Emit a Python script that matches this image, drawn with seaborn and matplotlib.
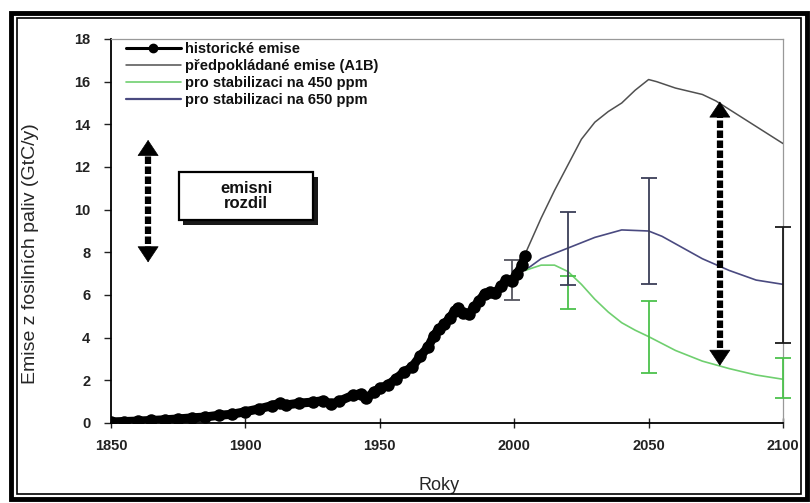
import numpy as np
import pandas as pd
import matplotlib
matplotlib.use("Agg")
import matplotlib.pyplot as plt
import matplotlib.patheffects as pe
from matplotlib.lines import Line2D
from matplotlib.patches import Rectangle
import seaborn as sns

# ---------------- data ----------------
hist_years = [1850, 1855, 1860, 1865, 1870, 1875, 1880, 1885, 1890, 1895, 1900, 1905,
              1910, 1913, 1915, 1920, 1925, 1929, 1932, 1935, 1940, 1943, 1945, 1948,
              1950, 1953, 1956, 1959, 1962, 1965, 1968, 1970, 1972, 1974, 1976, 1978,
              1979, 1981, 1983, 1985, 1987, 1989, 1991, 1993, 1995, 1997, 1999, 2001,
              2003, 2004]
hist_values = [0.05, 0.07, 0.09, 0.12, 0.15, 0.19, 0.24, 0.28, 0.36, 0.41, 0.53, 0.66,
               0.82, 0.94, 0.84, 0.93, 0.98, 1.05, 0.88, 1.03, 1.30, 1.38, 1.16, 1.47,
               1.63, 1.78, 2.07, 2.39, 2.62, 3.13, 3.56, 4.07, 4.42, 4.62, 4.93, 5.27,
               5.38, 5.15, 5.09, 5.43, 5.73, 6.07, 6.14, 6.10, 6.40, 6.70, 6.67, 6.99,
               7.40, 7.85]

a1b_years = [2004, 2010, 2015, 2020, 2025, 2030, 2035, 2040, 2045, 2050, 2053, 2060,
             2070, 2075, 2080, 2090, 2100]
a1b_values = [7.9, 9.6, 10.9, 12.1, 13.3, 14.1, 14.6, 15.0, 15.6, 16.1, 16.0, 15.7,
              15.4, 15.1, 14.7, 13.9, 13.1]

s650_years = [2004, 2010, 2020, 2030, 2040, 2050, 2055, 2060, 2070, 2080, 2090, 2100]
s650_values = [7.15, 7.7, 8.2, 8.7, 9.05, 9.0, 8.75, 8.4, 7.7, 7.15, 6.7, 6.5]

s450_years = [2004, 2010, 2015, 2020, 2025, 2030, 2035, 2040, 2045, 2050, 2060, 2070,
              2080, 2090, 2100]
s450_values = [7.15, 7.4, 7.4, 7.1, 6.5, 5.8, 5.2, 4.7, 4.35, 4.05, 3.4, 2.9, 2.55,
               2.25, 2.05]

# uncertainty ranges (year, low, high)
err_hist_years = [1999]
err_hist_low = [5.77]
err_hist_high = [7.64]

err650_years = [2020, 2050]
err650_low = [6.47, 6.5]
err650_high = [9.9, 11.5]

err450_years = [2020, 2050, 2100]
err450_low = [5.33, 2.35, 1.15]
err450_high = [6.9, 5.7, 3.05]

errA_years = [2100]
errA_low = [3.75]
errA_high = [9.2]

legend_labels = ["historické emise", "předpokládané emise (A1B)",
                 "pro stabilizaci na 450 ppm", "pro stabilizaci na 650 ppm"]
gap_label = "emisni\nrozdil"
x_ticks = [1850, 1900, 1950, 2000, 2050, 2100]
y_ticks = [0, 2, 4, 6, 8, 10, 12, 14, 16, 18]

# ---------------- style ----------------
sns.set_theme(style="white")
plt.rcParams["font.family"] = ["Liberation Sans", "DejaVu Sans"]

col_hist = "#000000"
col_a1b = "#505050"
col_450 = "#6fcf6f"
col_650 = "#4a4a80"
col_err650 = "#3c3f58"
col_err450 = "#4cc24c"

fig = plt.figure(figsize=(8.10, 5.03), dpi=100)
ax = fig.add_axes([111 / 810, 80 / 503, 672 / 810, 384 / 503])

df_hist = pd.DataFrame({"year": hist_years, "val": hist_values})
df_a1b = pd.DataFrame({"year": a1b_years, "val": a1b_values})
df_450 = pd.DataFrame({"year": s450_years, "val": s450_values})
df_650 = pd.DataFrame({"year": s650_years, "val": s650_values})

sns.lineplot(data=df_a1b, x="year", y="val", ax=ax, color=col_a1b, lw=1.1, zorder=3)
sns.lineplot(data=df_650, x="year", y="val", ax=ax, color=col_650, lw=1.2, zorder=3)
sns.lineplot(data=df_450, x="year", y="val", ax=ax, color=col_450, lw=1.2, zorder=3)
sns.lineplot(data=df_hist, x="year", y="val", ax=ax, color=col_hist, lw=6.5,
             marker="o", markersize=9, markeredgewidth=0, zorder=5)

def errbars(years, low, high, color, lw=1.3, z=4):
    years = np.asarray(years, float)
    low = np.asarray(low, float)
    high = np.asarray(high, float)
    mid = (low + high) / 2
    c = ax.errorbar(years, mid, yerr=[mid - low, high - mid], fmt="none",
                    ecolor=color, elinewidth=lw, capsize=6, capthick=lw, zorder=z)
    for art in c.get_children():
        art.set_clip_on(False)

errbars(err_hist_years, err_hist_low, err_hist_high, "#55555f")
errbars(err450_years, err450_low, err450_high, col_err450)
errbars(err650_years, err650_low, err650_high, col_err650)
errbars(errA_years, errA_low, errA_high, "#1a1a1a")

# double arrow (emission gap) on the chart
def double_arrow(x, y0, y1):
    ax.plot([x, x], [y0 + 0.5, y1 - 0.5], color="black", lw=4.5,
            linestyle=(0, (1.2, 0.4)), zorder=6, solid_capstyle="butt")
    for tip, base in ((y1, y1 - 0.9), (y0, y0 + 0.9)):
        ax.annotate("", xy=(x, tip), xytext=(x, base),
                    arrowprops=dict(arrowstyle="-|>,head_width=0.6,head_length=0.9",
                                    color="black", lw=0.5), zorder=7)

double_arrow(2076.5, 2.55, 15.2)
double_arrow(1863.8, 7.4, 13.4)

# "emisni rozdil" box with shadow
box = Rectangle((1875.3, 9.5), 50.0, 2.25, fc="white", ec="black", lw=1.6, zorder=8)
box.set_path_effects([pe.SimplePatchShadow(offset=(3, -3), shadow_rgbFace="black",
                                           alpha=0.9), pe.Normal()])
ax.add_patch(box)
ax.text(1900.3, 10.62, gap_label, ha="center", va="center", fontsize=12,
        fontweight="bold", color="#111111", linespacing=1.0, zorder=9)

# axes
ax.set_xlim(1850, 2100)
ax.set_ylim(0, 18)
ax.set_xticks(x_ticks)
ax.set_yticks(y_ticks)
ax.tick_params(axis="both", which="both", labelsize=10.5, colors="#222222",
               length=5, width=1, left=True, bottom=True)
ax.tick_params(axis="x", direction="inout", length=7, pad=8)
ax.tick_params(axis="y", direction="out", pad=10)
for lab in ax.get_xticklabels() + ax.get_yticklabels():
    lab.set_fontweight("bold")
ax.set_xlabel("Roky", fontsize=13)
ax.set_ylabel("Emise z fosilních paliv (GtC/y)", fontsize=14)
ax.xaxis.set_label_coords(0.488, -0.14)
ax.yaxis.set_label_coords(-0.107, 0.44)

for s in ["left", "bottom"]:
    ax.spines[s].set_color("black")
    ax.spines[s].set_linewidth(1.3)
for s in ["top", "right"]:
    ax.spines[s].set_color("#999999")
    ax.spines[s].set_linewidth(0.9)
ax.grid(False)

handles = [
    Line2D([], [], color=col_hist, lw=2.2, marker="o", markersize=6),
    Line2D([], [], color=col_a1b, lw=1.1),
    Line2D([], [], color=col_450, lw=1.2),
    Line2D([], [], color=col_650, lw=1.6),
]
leg = ax.legend(handles, legend_labels, loc="upper left", frameon=False,
                bbox_to_anchor=(0.0, 1.03), fontsize=10.5, handlelength=3.8,
                handletextpad=0.3, labelspacing=0.2, borderaxespad=0.6)
for txt in leg.get_texts():
    txt.set_fontweight("bold")
    txt.set_color("#111111")

# double frame around the figure
fig.patches.append(Rectangle((11 / 810, 4 / 503), 796 / 810, 486 / 503,
                             transform=fig.transFigure, fill=False, ec="black", lw=3.5))
fig.patches.append(Rectangle((17 / 810, 9 / 503), 784 / 810, 476 / 503,
                             transform=fig.transFigure, fill=False, ec="black", lw=1.2))

fig.savefig("out.png", dpi=100)
